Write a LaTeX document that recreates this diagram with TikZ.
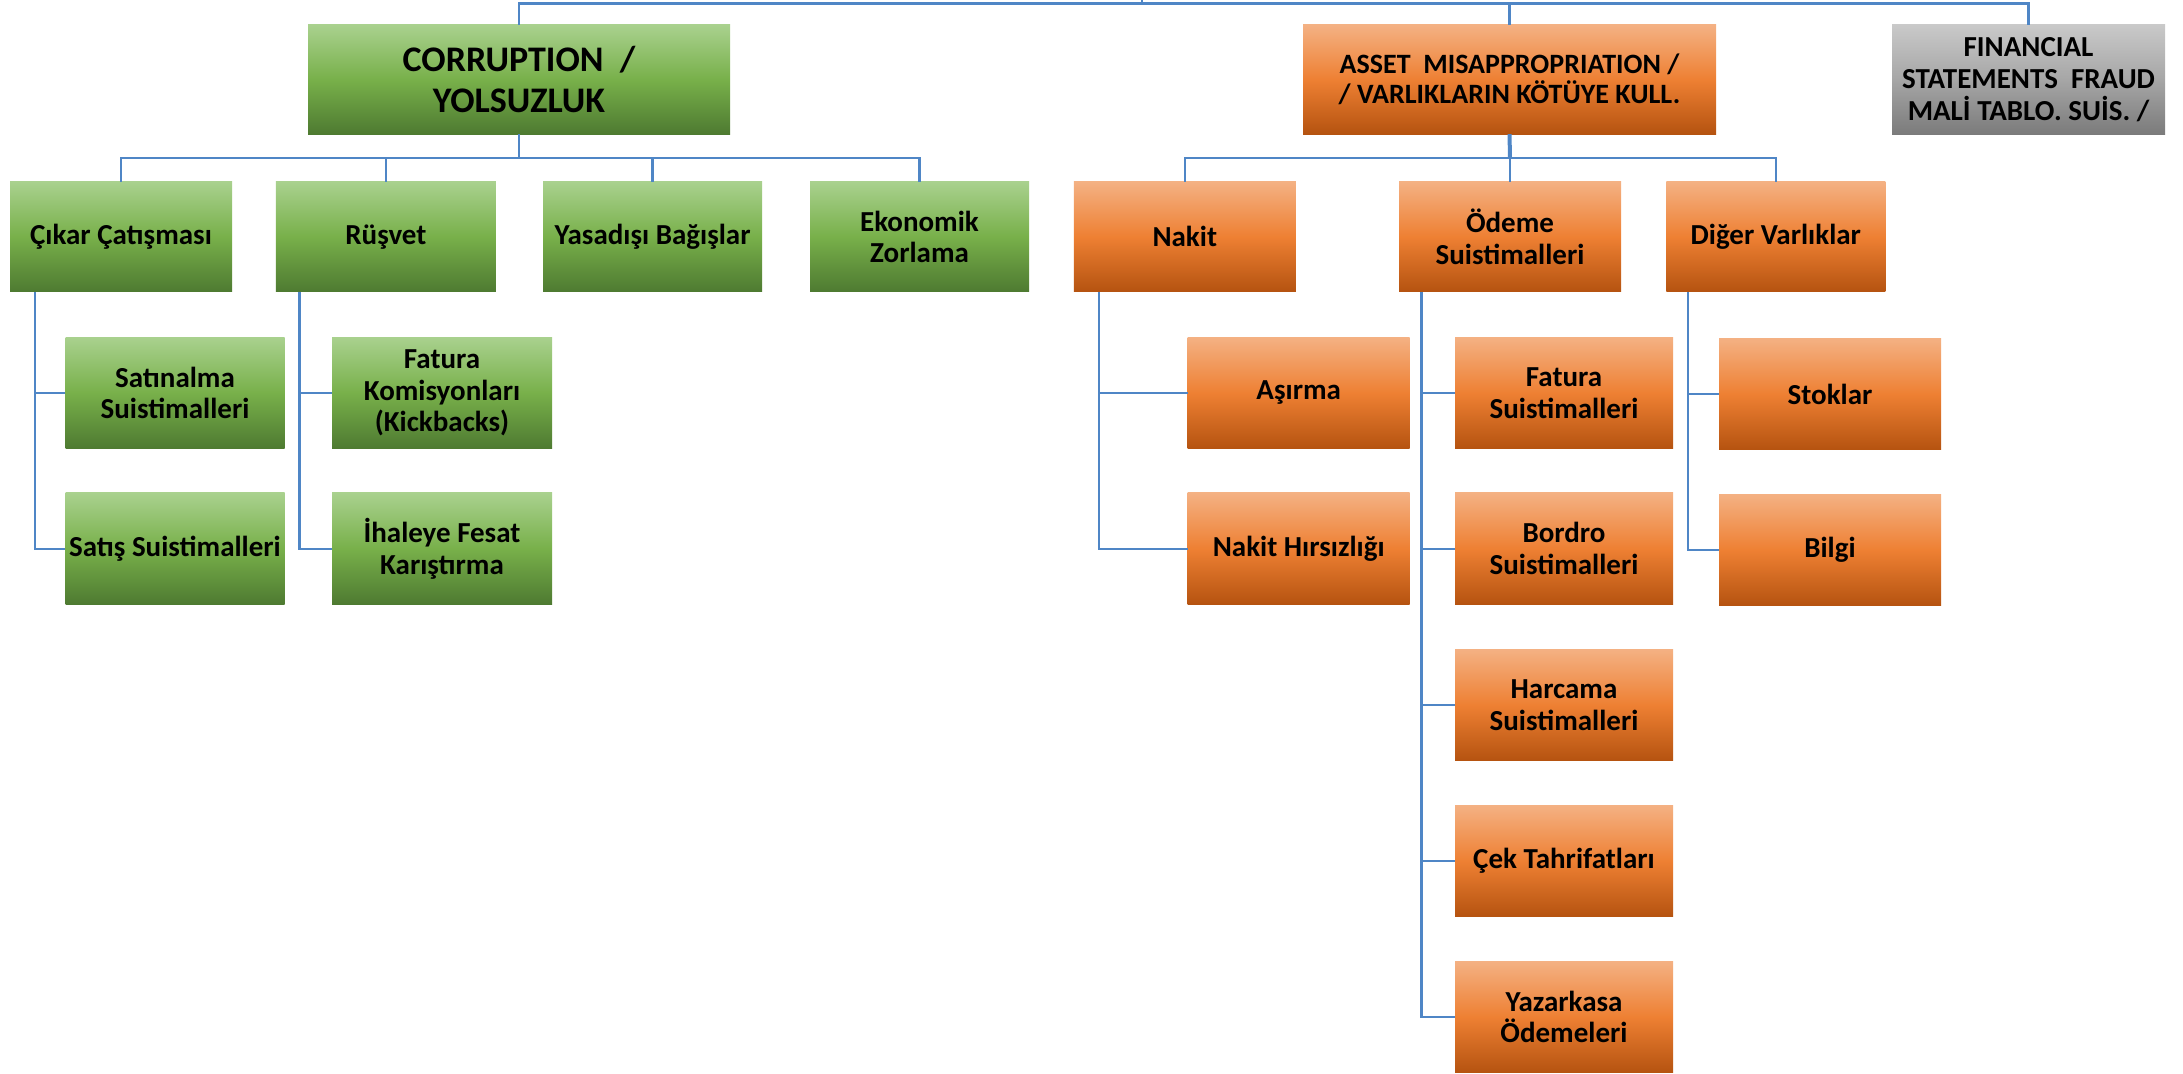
\documentclass[tikz,border=0pt]{standalone}
\usepackage{fontspec}
\setmainfont{Carlito}
\usetikzlibrary{calc}
\definecolor{lineblue}{HTML}{4F86C6}
\definecolor{gTop}{HTML}{A9D18E}
\definecolor{gMid}{HTML}{78B04A}
\definecolor{gBot}{HTML}{4E7A31}
\definecolor{oTop}{HTML}{F4B183}
\definecolor{oMid}{HTML}{EE8033}
\definecolor{oBot}{HTML}{B55310}
\definecolor{yTop}{HTML}{C9C9C9}
\definecolor{yMid}{HTML}{A6A6A6}
\definecolor{yBot}{HTML}{7B7B7B}
\begin{document}
\begin{tikzpicture}[x=1pt,y=-1pt,
  box/.style={rectangle, inner sep=1pt, align=center, text=black,
    font=\bfseries\fontsize{29}{31.7}\selectfont},
  gbox/.style={box, top color=gTop, bottom color=gBot, middle color=gMid},
  obox/.style={box, top color=oTop, bottom color=oBot, middle color=oMid},
  ybox/.style={box, top color=yTop, bottom color=yBot, middle color=yMid},
  topsize/.style={minimum height=109pt},
  lvtwo/.style={minimum width=220pt, minimum height=110pt},
  lvthree/.style={minimum width=220pt, minimum height=111.5pt},
  conn/.style={draw=lineblue, line width=2.3pt},
]
\useasboundingbox (0,0) rectangle (2183,1073);

% top level
\node[gbox, topsize, minimum width=422pt, font=\bfseries\fontsize{36}{40.5}\selectfont] (corr) at (519,79.5) {CORRUPTION~~/\\YOLSUZLUK};
\node[obox, topsize, minimum width=413pt, font=\bfseries\fontsize{28}{30.5}\selectfont] (asset) at (1509.5,79.5) {ASSET~ MISAPPROPRIATION /\\/ VARLIKLARIN KÖTÜYE KULL.};
\node[ybox, topsize, minimum width=273pt, font=\bfseries\fontsize{29}{32.3}\selectfont] (fin) at (2028.5,79.5) {FINANCIAL\\STATEMENTS~ FRAUD\\MALİ TABLO. SUİS. /};

% level 2
\node[gbox, lvtwo, minimum width=222pt] (cikar) at (121,236.8) {Çıkar Çatışması};
\node[gbox, lvtwo] (rusvet) at (385.9,236.8) {Rüşvet};
\node[gbox, lvtwo, minimum width=219pt] (yasa) at (652.5,236.8) {Yasadışı Bağışlar};
\node[gbox, lvtwo, minimum width=219pt] (eko) at (919.5,236.8) {Ekonomik\\Zorlama};
\node[obox, lvtwo, minimum width=222pt] (nakit) at (1184.8,236.8) {Nakit};
\node[obox, lvtwo, minimum width=222pt] (odeme) at (1510,236.8) {Ödeme\\Suistimalleri};
\node[obox, lvtwo, minimum width=219pt] (diger) at (1775.8,236.8) {Diğer Varlıklar};

% level 3
\node[gbox, lvthree, minimum width=219pt] (satinalma) at (175,393) {Satınalma\\Suistimalleri};
\node[gbox, lvthree, minimum width=219pt] (satis) at (175,548.7) {Satış Suistimalleri};
\node[gbox, lvthree] (fatkom) at (442,393) {Fatura\\Komisyonları\\(Kickbacks)};
\node[gbox, lvthree] (ihale) at (442,548.7) {İhaleye Fesat\\Karıştırma};
\node[obox, lvthree, minimum width=222pt] (asirma) at (1298.7,393) {Aşırma};
\node[obox, lvthree, minimum width=222pt] (nhirs) at (1298.7,548.7) {Nakit Hırsızlığı};
\node[obox, lvthree, minimum width=218pt] (fatsu) at (1564,393) {Fatura\\Suistimalleri};
\node[obox, lvthree, minimum width=218pt] (bordro) at (1564,548.7) {Bordro\\Suistimalleri};
\node[obox, lvthree, minimum width=218pt] (harcama) at (1564,705) {Harcama\\Suistimalleri};
\node[obox, lvthree, minimum width=218pt] (cek) at (1564,861) {Çek Tahrifatları};
\node[obox, lvthree, minimum width=218pt] (yazar) at (1564,1017) {Yazarkasa\\Ödemeleri};
\node[obox, lvthree, minimum width=222pt] (stoklar) at (1830,394) {Stoklar};
\node[obox, lvthree, minimum width=222pt] (bilgi) at (1830,550) {Bilgi};

% connectors: top bus
\coordinate (root) at (1142,0);
\coordinate (topbus) at (1142,3.5);
\draw[conn] (root) -- (topbus);
\draw[conn] (corr.north) |- (topbus) -| (fin.north);
\draw[conn] (asset.north) -- (asset.north |- topbus);

% corruption bus
\coordinate (cbus) at (519,158);
\draw[conn] (corr.south) -- (cbus);
\draw[conn] (cikar.north) |- (cbus) -| (eko.north);
\draw[conn] (rusvet.north) -- (rusvet.north |- cbus);
\draw[conn] (yasa.north) -- (yasa.north |- cbus);

% asset bus
\coordinate (abus) at (1510,158);
\draw[conn, line width=4pt] (asset.south) -- (abus);
\draw[conn] (nakit.north) |- (abus) -| (diger.north);
\draw[conn] (odeme.north) -- (abus);

% side branches
\coordinate (vcikar) at ($(cikar.south west)+(25.2,0)$);
\draw[conn] (vcikar) |- (satis.west);
\draw[conn] (satinalma.west) -- (satinalma.west -| vcikar);

\coordinate (vrusvet) at ($(rusvet.south west)+(23.8,0)$);
\draw[conn] (vrusvet) |- (ihale.west);
\draw[conn] (fatkom.west) -- (fatkom.west -| vrusvet);

\coordinate (vnakit) at ($(nakit.south west)+(25.2,0)$);
\draw[conn] (vnakit) |- (nhirs.west);
\draw[conn] (asirma.west) -- (asirma.west -| vnakit);

\coordinate (vodeme) at ($(odeme.south west)+(22.7,0)$);
\draw[conn] (vodeme) |- (yazar.west);
\draw[conn] (fatsu.west) -- (fatsu.west -| vodeme);
\draw[conn] (bordro.west) -- (bordro.west -| vodeme);
\draw[conn] (harcama.west) -- (harcama.west -| vodeme);
\draw[conn] (cek.west) -- (cek.west -| vodeme);

\coordinate (vdiger) at ($(diger.south west)+(22,0)$);
\draw[conn] (vdiger) |- (bilgi.west);
\draw[conn] (stoklar.west) -- (stoklar.west -| vdiger);
\end{tikzpicture}
\end{document}
